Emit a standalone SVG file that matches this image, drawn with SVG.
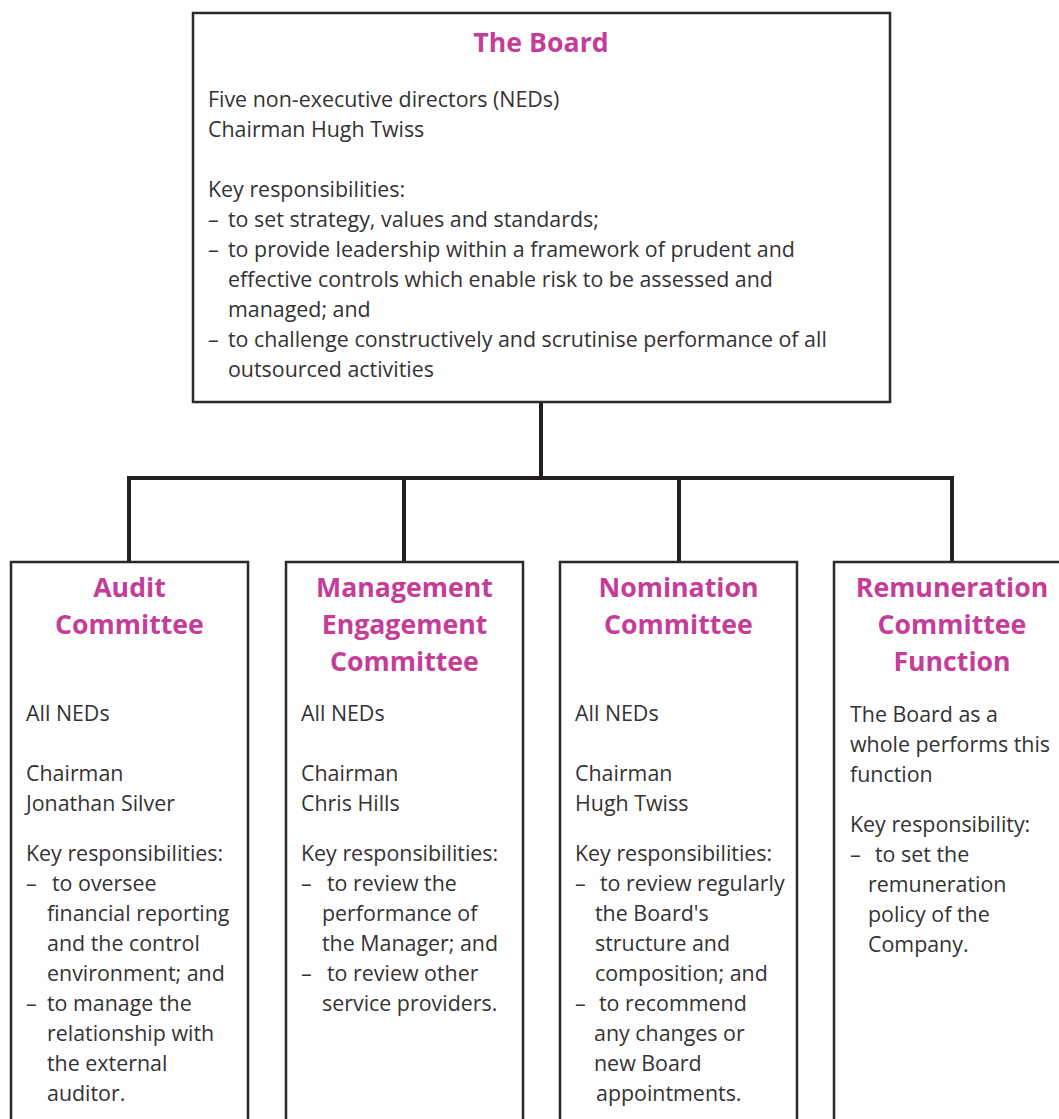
<svg xmlns="http://www.w3.org/2000/svg" width="1059" height="1119" viewBox="0 0 1059 1119">
<style>
.box{fill:#ffffff;stroke:#2b2a29;stroke-width:2.5}
.conn{fill:none;stroke:#231f20;stroke-width:4}
.title{font-family:"Open Sans","Noto Sans",sans-serif;font-weight:bold;font-size:26.7px;fill:#c43d98;text-anchor:middle}
.body{font-family:"Open Sans","Noto Sans",sans-serif;font-size:21.4px;fill:#333333}
</style>
<rect width="1059" height="1119" fill="#ffffff"/>
<g id="connectors">
<path class="conn" d="M541,402 V478 M129,478 H952 M129,476 V562 M404,476 V562 M679,476 V562 M952,476 V562"/>
</g>
<g id="board">
<rect class="box" x="193" y="13" width="697" height="389"/>
<text class="title" x="541" y="52">The Board</text>
<text class="body">
<tspan x="208" y="107">Five non-executive directors (NEDs)</tspan>
<tspan x="208" y="137">Chairman Hugh Twiss</tspan>
<tspan x="208" y="197">Key responsibilities:</tspan>
<tspan x="208" y="227">–</tspan><tspan x="228" y="227">to set strategy, values and standards;</tspan>
<tspan x="208" y="257">–</tspan><tspan x="228" y="257">to provide leadership within a framework of prudent and</tspan>
<tspan x="228" y="287">effective controls which enable risk to be assessed and</tspan>
<tspan x="228" y="317">managed; and</tspan>
<tspan x="208" y="347">–</tspan><tspan x="228" y="347">to challenge constructively and scrutinise performance of all</tspan>
<tspan x="228" y="377">outsourced activities</tspan>
</text>
</g>
<g id="audit">
<rect class="box" x="11" y="562" width="237" height="580"/>
<text class="title"><tspan x="129.5" y="597">Audit</tspan><tspan x="129.5" y="634">Committee</tspan></text>
<text class="body">
<tspan x="26" y="721">All NEDs</tspan>
<tspan x="26" y="781">Chairman</tspan>
<tspan x="26" y="811">Jonathan Silver</tspan>
<tspan x="26" y="861">Key responsibilities:</tspan>
<tspan x="26" y="891">–</tspan><tspan x="52" y="891">to oversee</tspan>
<tspan x="47" y="921">financial reporting</tspan>
<tspan x="47" y="951">and the control</tspan>
<tspan x="47" y="981">environment; and</tspan>
<tspan x="26" y="1011">–</tspan><tspan x="47" y="1011">to manage the</tspan>
<tspan x="47" y="1041">relationship with</tspan>
<tspan x="47" y="1071">the external</tspan>
<tspan x="47" y="1101">auditor.</tspan>
</text>
</g>
<g id="management">
<rect class="box" x="286" y="562" width="237" height="580"/>
<text class="title"><tspan x="404.5" y="597">Management</tspan><tspan x="404.5" y="634">Engagement</tspan><tspan x="404.5" y="671">Committee</tspan></text>
<text class="body">
<tspan x="301" y="721">All NEDs</tspan>
<tspan x="301" y="781">Chairman</tspan>
<tspan x="301" y="811">Chris Hills</tspan>
<tspan x="301" y="861">Key responsibilities:</tspan>
<tspan x="301" y="891">–</tspan><tspan x="327" y="891">to review the</tspan>
<tspan x="322" y="921">performance of</tspan>
<tspan x="322" y="951">the Manager; and</tspan>
<tspan x="301" y="981">–</tspan><tspan x="327" y="981">to review other</tspan>
<tspan x="322" y="1011">service providers.</tspan>
</text>
</g>
<g id="nomination">
<rect class="box" x="560" y="562" width="237" height="580"/>
<text class="title"><tspan x="678.5" y="597">Nomination</tspan><tspan x="678.5" y="634">Committee</tspan></text>
<text class="body">
<tspan x="575" y="721">All NEDs</tspan>
<tspan x="575" y="781">Chairman</tspan>
<tspan x="575" y="811">Hugh Twiss</tspan>
<tspan x="575" y="861">Key responsibilities:</tspan>
<tspan x="575" y="891">–</tspan><tspan x="600" y="891">to review regularly</tspan>
<tspan x="595" y="921">the Board's</tspan>
<tspan x="595" y="951">structure and</tspan>
<tspan x="595" y="981">composition; and</tspan>
<tspan x="575" y="1011">–</tspan><tspan x="599" y="1011">to recommend</tspan>
<tspan x="594" y="1041">any changes or</tspan>
<tspan x="594" y="1071">new Board</tspan>
<tspan x="596" y="1101">appointments.</tspan>
</text>
</g>
<g id="remuneration">
<rect class="box" x="834" y="562" width="240" height="580"/>
<text class="title"><tspan x="952" y="597">Remuneration</tspan><tspan x="952" y="634">Committee</tspan><tspan x="952" y="671">Function</tspan></text>
<text class="body">
<tspan x="850" y="722">The Board as a</tspan>
<tspan x="850" y="752">whole performs this</tspan>
<tspan x="850" y="782">function</tspan>
<tspan x="850" y="832">Key responsibility:</tspan>
<tspan x="850" y="862">–</tspan><tspan x="875" y="862">to set the</tspan>
<tspan x="868" y="892">remuneration</tspan>
<tspan x="868" y="922">policy of the</tspan>
<tspan x="868" y="952">Company.</tspan>
</text>
</g>
</svg>
